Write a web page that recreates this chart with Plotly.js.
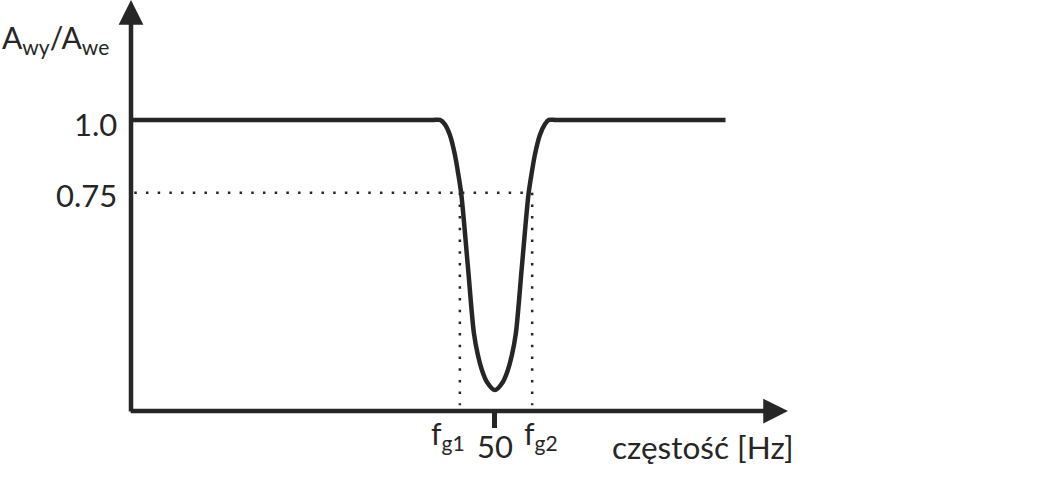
<!DOCTYPE html>
<html>
<head>
<meta charset="utf-8">
<script src="https://cdn.plot.ly/plotly-3.0.1.min.js"></script>
<style>html,body{margin:0;padding:0;background:#fff;}#chart{width:1061px;height:486px;}</style>
</head>
<body>
<div id="chart"></div>
<script>
// Frequency response of a notch (band-stop) filter
var freq = [0, 41.5, 42.5, 43.19, 43.88, 44.57, 45.05, 45.46, 46.36, 47.18, 47.73, 48.28, 48.97, 50.07,
            51.17, 51.86, 52.41, 52.96, 53.78, 54.68, 55.09, 55.57, 56.26, 56.95, 57.5, 58.5, 81.8];
var gain = [1.0, 1.0, 1.0, 0.985, 0.948, 0.880, 0.811, 0.742, 0.495, 0.268, 0.192, 0.141, 0.100, 0.072,
            0.100, 0.141, 0.192, 0.268, 0.495, 0.742, 0.811, 0.880, 0.948, 0.985, 1.0, 1.0, 1.0];
var level = 0.75;        // marked gain level
var fg1 = 45.25;         // lower cut-off
var fg2 = 55.2;          // upper cut-off
var fCenter = 50;        // notch frequency
var yTickVals = [1.0, 0.75];
var yTickText = ['1.0', '0.75'];
var xMax = 90.4, yMax = 1.412;

var ink = '#262626';
var fontFam = 'Lato, "Open Sans", sans-serif';
var dotted = {color: ink, width: 2.5, dash: '2.5px,9.2px'};

var traces = [
  {x: [0.45, fg2], y: [level, level], mode: 'lines', line: dotted, hoverinfo: 'skip'},
  {x: [fg1, fg1], y: [level, 0.02], mode: 'lines', line: dotted, hoverinfo: 'skip'},
  {x: [fg2, fg2], y: [level, 0.02], mode: 'lines', line: dotted, hoverinfo: 'skip'},
  {x: freq, y: gain, mode: 'lines', line: {color: ink, width: 4.5, shape: 'spline', smoothing: 0.8}, hoverinfo: 'skip'}
];

var ann = [
  // axes with arrow heads
  {x: 0, y: yMax, ax: 0, ay: -0.007, xref: 'x', yref: 'y', axref: 'x', ayref: 'y', text: '', showarrow: true,
   arrowhead: 2, arrowsize: 1.1, arrowwidth: 4.5, arrowcolor: ink},
  {x: xMax, y: 0, ax: -0.25, ay: 0, xref: 'x', yref: 'y', axref: 'x', ayref: 'y', text: '', showarrow: true,
   arrowhead: 2, arrowsize: 1.1, arrowwidth: 4.5, arrowcolor: ink},
  // y tick labels
  {x: 0, y: yTickVals[0], xref: 'x', yref: 'y', text: yTickText[0], showarrow: false, xanchor: 'right', yanchor: 'middle', xshift: -12, yshift: -4, font: {family: fontFam, size: 31, color: ink}},
  {x: 0, y: yTickVals[1], xref: 'x', yref: 'y', text: yTickText[1], showarrow: false, xanchor: 'right', yanchor: 'middle', xshift: -12, yshift: -2, font: {family: fontFam, size: 31, color: ink}},
  // y axis title
  {x: 0, y: yMax, xref: 'paper', yref: 'y', text: 'A<sub>wy</sub>/A<sub>we</sub>', showarrow: false, xanchor: 'right', yanchor: 'middle', xshift: -20, yshift: -39, font: {family: fontFam, size: 30, color: ink}},
  // x labels
  {x: fg1, y: 0, xref: 'x', yref: 'y', text: 'f<sub>g1</sub>', showarrow: false, xanchor: 'center', yanchor: 'middle', xshift: -12, yshift: -24, font: {family: fontFam, size: 30, color: ink}},
  {x: fCenter, y: 0, xref: 'x', yref: 'y', text: String(fCenter), showarrow: false, xanchor: 'center', yanchor: 'middle', xshift: 1, yshift: -35, font: {family: fontFam, size: 31, color: ink}},
  {x: fg2, y: 0, xref: 'x', yref: 'y', text: 'f<sub>g2</sub>', showarrow: false, xanchor: 'center', yanchor: 'middle', xshift: 9, yshift: -24, font: {family: fontFam, size: 30, color: ink}},
  {x: xMax, y: 0, xref: 'x', yref: 'y', text: 'częstość [Hz]', showarrow: false, xanchor: 'right', yanchor: 'middle', xshift: 8, yshift: -36, font: {family: fontFam, size: 31.5, color: ink}}
];

var layout = {
  width: 1061, height: 486,
  margin: {l: 131, r: 273, t: 0, b: 75, pad: 0},
  paper_bgcolor: '#fff', plot_bgcolor: '#fff',
  showlegend: false,
  xaxis: {range: [0, xMax], showgrid: false, zeroline: false, showline: false,
          tickmode: 'array', tickvals: [fCenter], ticks: 'outside', ticklen: 16, tickwidth: 4.5, tickcolor: ink,
          showticklabels: false, fixedrange: true},
  yaxis: {range: [0, yMax], showgrid: false, zeroline: false, showline: false, showticklabels: false, ticks: '', fixedrange: true},
  annotations: ann
};

Plotly.newPlot('chart', traces, layout, {staticPlot: true, displayModeBar: false});
</script>
</body>
</html>
